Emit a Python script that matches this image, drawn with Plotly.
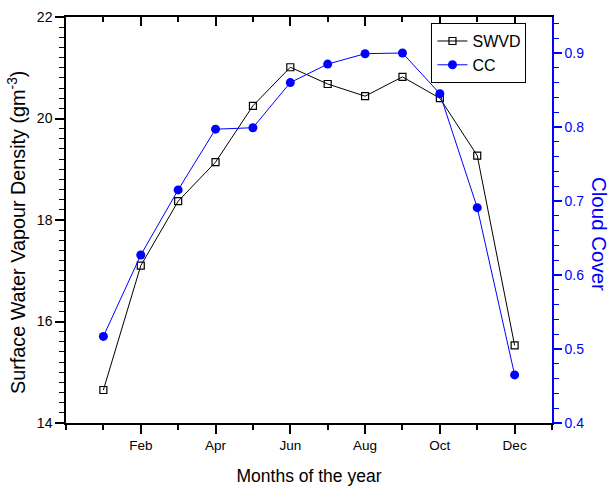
import plotly.graph_objects as go

months = [1, 2, 3, 4, 5, 6, 7, 8, 9, 10, 11, 12]
swvd = [14.65, 17.10, 18.37, 19.14, 20.25, 21.01, 20.68, 20.44, 20.82, 20.40, 19.27, 15.53]
cc = [0.517, 0.627, 0.715, 0.797, 0.799, 0.860, 0.885, 0.899, 0.900, 0.845, 0.691, 0.465]
tick_months = [2, 4, 6, 8, 10, 12]
tick_labels = ["Feb", "Apr", "Jun", "Aug", "Oct", "Dec"]

FONT = "Liberation Sans, Arial, sans-serif"
BLUE = "#0000ff"

fig = go.Figure()

fig.add_trace(go.Scatter(
    x=months, y=swvd, name="SWVD", mode="lines+markers",
    line=dict(color="black", width=1),
    marker=dict(symbol="square-open", size=7, color="black", line=dict(width=1.2)),
    xaxis="x", yaxis="y",
))
fig.add_trace(go.Scatter(
    x=months, y=cc, name="CC", mode="lines+markers",
    line=dict(color=BLUE, width=1),
    marker=dict(symbol="circle", size=9, color=BLUE),
    xaxis="x", yaxis="y2",
))
# helper trace so the top (inward-tick) axis is drawn
fig.add_trace(go.Scatter(
    x=months, y=swvd, mode="lines", line=dict(width=0, color="rgba(0,0,0,0)"),
    hoverinfo="skip", showlegend=False, xaxis="x2", yaxis="y",
))

fig.update_layout(
    width=610, height=487,
    margin=dict(l=66, r=58, t=17, b=64),
    paper_bgcolor="white", plot_bgcolor="white",
    font=dict(family=FONT, color="black", size=13),
    showlegend=True,
    legend=dict(
        x=0.752, y=0.985, xanchor="left", yanchor="top",
        bgcolor="white", bordercolor="black", borderwidth=1,
        font=dict(size=16, family=FONT), tracegroupgap=2,
    ),
    xaxis=dict(
        range=[0, 13], tickmode="array", tickvals=tick_months, ticktext=tick_labels,
        ticks="outside", ticklen=9, tickwidth=1.5, tickcolor="black",
        showline=True, linecolor="black", linewidth=1.5,
        showgrid=False, zeroline=False, automargin=False,
        minor=dict(dtick=1, tick0=0, ticks="outside", ticklen=5, tickwidth=1.5, tickcolor="black"),
        tickfont=dict(size=13.5),
        title=dict(text="Months of the year", font=dict(size=17.5), standoff=18),
    ),
    xaxis2=dict(
        range=[0, 13], overlaying="x", side="top", tickmode="array", tickvals=tick_months,
        showticklabels=False, ticks="inside", ticklen=9, tickwidth=1.5, tickcolor="black",
        showline=True, linecolor="black", linewidth=1.5,
        showgrid=False, zeroline=False, automargin=False,
        minor=dict(dtick=1, tick0=0, ticks="inside", ticklen=5, tickwidth=1.5, tickcolor="black"),
    ),
    yaxis=dict(
        range=[14, 22], dtick=2, tick0=14,
        ticks="outside", ticklen=9, tickwidth=1.5, tickcolor="black",
        showline=True, linecolor="black", linewidth=1.5,
        showgrid=False, zeroline=False, automargin=False,
        minor=dict(dtick=0.2, ticks="outside", ticklen=5, tickwidth=1, tickcolor="black"),
        tickfont=dict(size=14),
    ),
    yaxis2=dict(
        range=[0.4, 0.9486], overlaying="y", side="right", dtick=0.1, tick0=0.4, tickformat=".1f",
        ticks="outside", ticklen=8, tickwidth=1.5, tickcolor=BLUE,
        showline=True, linecolor=BLUE, linewidth=1.5,
        showgrid=False, zeroline=False, automargin=False,
        minor=dict(dtick=0.02, tick0=0.4, ticks="outside", ticklen=5, tickwidth=1, tickcolor=BLUE),
        tickfont=dict(size=14, color=BLUE),
    ),
    annotations=[
        dict(
            text="Surface Water Vapour Density (gm<sup>-3</sup>)", textangle=-90,
            xref="paper", yref="paper", x=0.0, y=0.5, xanchor="center", yanchor="middle",
            xshift=-50, yshift=-13, showarrow=False,
            font=dict(size=19.8, color="black", family=FONT),
        ),
        dict(
            text="Cloud Cover", textangle=90, xref="paper", yref="paper",
            x=1.0, y=0.5, xanchor="center", yanchor="middle", xshift=48, yshift=-14,
            showarrow=False, font=dict(size=20.5, color=BLUE, family=FONT),
        ),
    ],
)

fig.write_html("out.html", config={"displayModeBar": False},
               post_script="document.body.style.margin='0';")
